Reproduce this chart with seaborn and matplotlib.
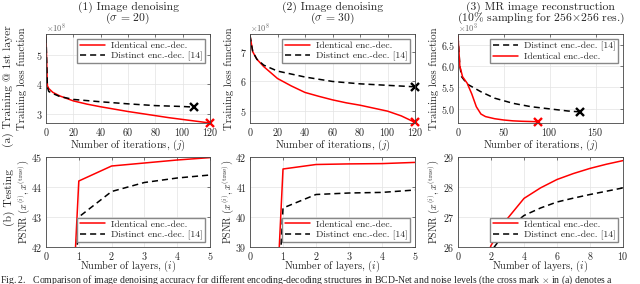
import matplotlib
matplotlib.use('Agg')
import matplotlib.pyplot as plt
import numpy as np
import seaborn as sns

# --- training loss, 1st layer (top row) ---
# (1) denoising sigma=20, values x1e8
it1_id = [0, 1, 2, 5, 10, 20, 30, 40, 50, 60, 70, 80, 90, 100, 110, 120]
loss1_id = [5.6, 3.95, 3.85, 3.72, 3.6, 3.43, 3.32, 3.23, 3.15, 3.07, 3.0, 2.93, 2.86, 2.8, 2.74, 2.68]
it1_di = [0, 1, 2, 5, 10, 20, 40, 60, 80, 100, 108]
loss1_di = [5.6, 3.9, 3.75, 3.68, 3.58, 3.48, 3.4, 3.33, 3.27, 3.24, 3.22]

# (2) denoising sigma=30, values x1e8
it2_id = [0, 2, 5, 10, 20, 30, 40, 50, 60, 70, 80, 90, 100, 110, 120]
loss2_id = [7.55, 7.0, 6.75, 6.5, 6.1, 5.85, 5.63, 5.5, 5.38, 5.28, 5.2, 5.1, 5.0, 4.84, 4.62]
it2_di = [0, 2, 5, 10, 20, 40, 60, 80, 100, 120]
loss2_di = [7.55, 7.0, 6.75, 6.55, 6.35, 6.15, 6.0, 5.92, 5.87, 5.82]

# (3) MR reconstruction, values x1e3
it3_id = [0, 2, 5, 10, 15, 20, 25, 30, 40, 50, 60, 70, 87]
loss3_id = [6.7, 6.0, 5.75, 5.6, 5.35, 5.05, 4.88, 4.82, 4.77, 4.74, 4.72, 4.71, 4.7]
it3_di = [0, 2, 4, 10, 25, 40, 60, 80, 100, 120, 133]
loss3_di = [6.7, 6.0, 5.75, 5.58, 5.4, 5.25, 5.13, 5.05, 5.0, 4.95, 4.93]

# --- testing PSNR (bottom row) ---
lay12 = [0, 1, 2, 3, 4, 5]
psnr1_id = [22.1, 44.2, 44.7, 44.8, 44.9, 44.98]
psnr1_di = [22.1, 43.0, 43.85, 44.15, 44.3, 44.4]
psnr2_id = [18.6, 41.6, 41.75, 41.77, 41.78, 41.82]
psnr2_di = [18.6, 40.3, 40.75, 40.8, 40.82, 40.9]
lay3 = [1, 2, 3, 4, 5, 6, 7, 8, 9, 10]
psnr3_id = [24.5, 26.05, 26.95, 27.62, 27.97, 28.25, 28.45, 28.62, 28.76, 28.88]
psnr3_di = [24.3, 25.85, 26.6, 27.05, 27.3, 27.5, 27.63, 27.75, 27.86, 27.97]

titles = [('(1) Image denoising', '($\\sigma$ = 20)'),
          ('(2) Image denoising', '($\\sigma$ = 30)'),
          ('(3) MR image reconstruction', '(10$\\%$ sampling for 256$\\times$256 res.)')]
offsets = ['$\\times10^{8}$', '$\\times10^{8}$', '$\\times10^{3}$']
lab_id = 'Identical enc.-dec.'
lab_di = 'Distinct enc.-dec. [14]'

sns.set_style('whitegrid')
plt.rcParams['font.family'] = ['cmr10', 'DejaVu Serif']
plt.rcParams['mathtext.fontset'] = 'cm'
plt.rcParams['axes.formatter.use_mathtext'] = True
plt.rcParams['axes.unicode_minus'] = False

W, H = 640, 284
fig = plt.figure(figsize=(6.4, 2.84), dpi=100)


def make_ax(x0, y0, x1, y1):
    return fig.add_axes([x0 / W, 1 - y1 / H, (x1 - x0) / W, (y1 - y0) / H])


def style(ax):
    for s in ax.spines.values():
        s.set_color('#444444')
        s.set_linewidth(0.6)
    ax.grid(True, color='#e3e3e3', linewidth=0.5)
    ax.tick_params(direction='in', length=2.5, width=0.5, colors='#444444',
                   labelsize=7.2, labelcolor='#262626', top=True, right=True,
                   pad=2.2)
    ax.set_axisbelow(True)


def legend(ax, loc):
    ax.legend(loc=loc, fontsize=7, frameon=True, fancybox=False,
              edgecolor='#888888', framealpha=1, borderaxespad=0.5,
              handlelength=2.6, handletextpad=0.6, borderpad=0.25,
              labelspacing=0.15)


xs = [(46, 210), (250, 415), (458, 623)]
top_axes = [make_ax(a, 34, b, 123) for a, b in xs]
bot_axes = [make_ax(a, 157, b, 247) for a, b in xs]
ylab_x = [22, 229, 434]
ylab_xb = [24, 228, 434]

RED = '#ff0000'
lw = 1.1
dash = (4, 2.6)

top_data = [
    (it1_id, loss1_id, it1_di, loss1_di, 1e8, (0, 120), (2.68, 5.7), [3, 4, 5], range(0, 121, 20)),
    (it2_id, loss2_id, it2_di, loss2_di, 1e8, (0, 120), (4.6, 7.6), [5, 6, 7], range(0, 121, 20)),
    (it3_id, loss3_id, it3_di, loss3_di, 1e3, (0, 180), (4.67, 6.75), [5, 5.5, 6, 6.5], [0, 50, 100, 150]),
]

for k, (ax, d) in enumerate(zip(top_axes, top_data)):
    xi, yi, xd, yd, sc, xl, yl, yt, xt = d
    yi = np.array(yi) * sc
    yd = np.array(yd) * sc
    if k == 2:
        sns.lineplot(x=xd, y=yd, ax=ax, color='black', lw=lw,
                     linestyle=(0, dash), label=lab_di)
        sns.lineplot(x=xi, y=yi, ax=ax, color=RED, lw=lw, label=lab_id)
    else:
        sns.lineplot(x=xi, y=yi, ax=ax, color=RED, lw=lw, label=lab_id)
        sns.lineplot(x=xd, y=yd, ax=ax, color='black', lw=lw,
                     linestyle=(0, dash), label=lab_di)
    ax.plot(xi[-1], yi[-1], 'x', color=RED, ms=5.5, mew=1.7, clip_on=False)
    ax.plot(xd[-1], yd[-1], 'x', color='black', ms=5.5, mew=1.7, clip_on=False)
    ax.set_xlim(*xl)
    ax.set_ylim(yl[0] * sc, yl[1] * sc)
    ax.set_yticks(np.array(yt) * sc)
    ax.set_xticks(list(xt))
    style(ax)
    ax.ticklabel_format(style='sci', axis='y', scilimits=(0, 0))
    ax.yaxis.get_offset_text().set_visible(False)
    ax.text(0.0, 1.005, offsets[k], transform=ax.transAxes, ha='left',
            va='bottom', fontsize=6, color='#666666')
    ax.set_xlabel('Number of iterations, $(j)$', fontsize=7.6, va='center')
    ax.xaxis.set_label_coords(0.5, (123 - 145) / 89)
    ax.set_ylabel('Training loss function', fontsize=7.8, va='center')
    ax.yaxis.set_label_coords((ylab_x[k] - xs[k][0]) / (xs[k][1] - xs[k][0]), 0.5)
    cx = (xs[k][0] + xs[k][1]) / 2 / W
    fig.text(cx, 1 - 7 / H, titles[k][0], ha='center', va='center', fontsize=8.4)
    fig.text(cx, 1 - 18 / H, titles[k][1], ha='center', va='center', fontsize=8.4)
    legend(ax, 'upper right')

bot_data = [
    (lay12, psnr1_id, psnr1_di, (0, 5), (42, 45), range(0, 6)),
    (lay12, psnr2_id, psnr2_di, (0, 5), (39, 42), range(0, 6)),
    (lay3, psnr3_id, psnr3_di, (0, 10), (26, 29), range(0, 11, 2)),
]

for k, (ax, d) in enumerate(zip(bot_axes, bot_data)):
    x, yi, yd, xl, yl, xt = d
    sns.lineplot(x=x, y=yi, ax=ax, color=RED, lw=lw, label=lab_id)
    sns.lineplot(x=x, y=yd, ax=ax, color='black', lw=lw,
                 linestyle=(0, dash), label=lab_di)
    ax.set_xlim(*xl)
    ax.set_ylim(*yl)
    ax.set_yticks(range(yl[0], yl[1] + 1))
    ax.set_xticks(list(xt))
    style(ax)
    ax.set_xlabel('Number of layers, $(i)$', fontsize=7.4, va='center')
    ax.xaxis.set_label_coords(0.5, (247 - 266.5) / 90)
    ax.set_ylabel('PSNR $\\left(x^{(i)}, x^{(\\mathrm{true})}\\right)$', fontsize=7.2, va='center')
    ax.yaxis.set_label_coords((ylab_xb[k] - xs[k][0]) / (xs[k][1] - xs[k][0]), 0.5)
    legend(ax, 'lower right')

fig.text(8 / W, 1 - 86 / H, '(a) Training @ 1st layer', rotation=90,
         ha='center', va='center', fontsize=8.3)
fig.text(9 / W, 1 - 197 / H, '(b) Testing', rotation=90,
         ha='center', va='center', fontsize=8.3)
fig.text(0 / W, 1 - 280 / H,
         'Fig. 2.   Comparison of image denoising accuracy for different encoding-decoding structures in BCD-Net '
         'and noise levels (the cross mark $\\mathbf{\\times}$ in (a) denotes a',
         ha='left', va='center', fontsize=7, family=['Liberation Serif', 'DejaVu Serif'])

fig.savefig('out.png', dpi=100)
